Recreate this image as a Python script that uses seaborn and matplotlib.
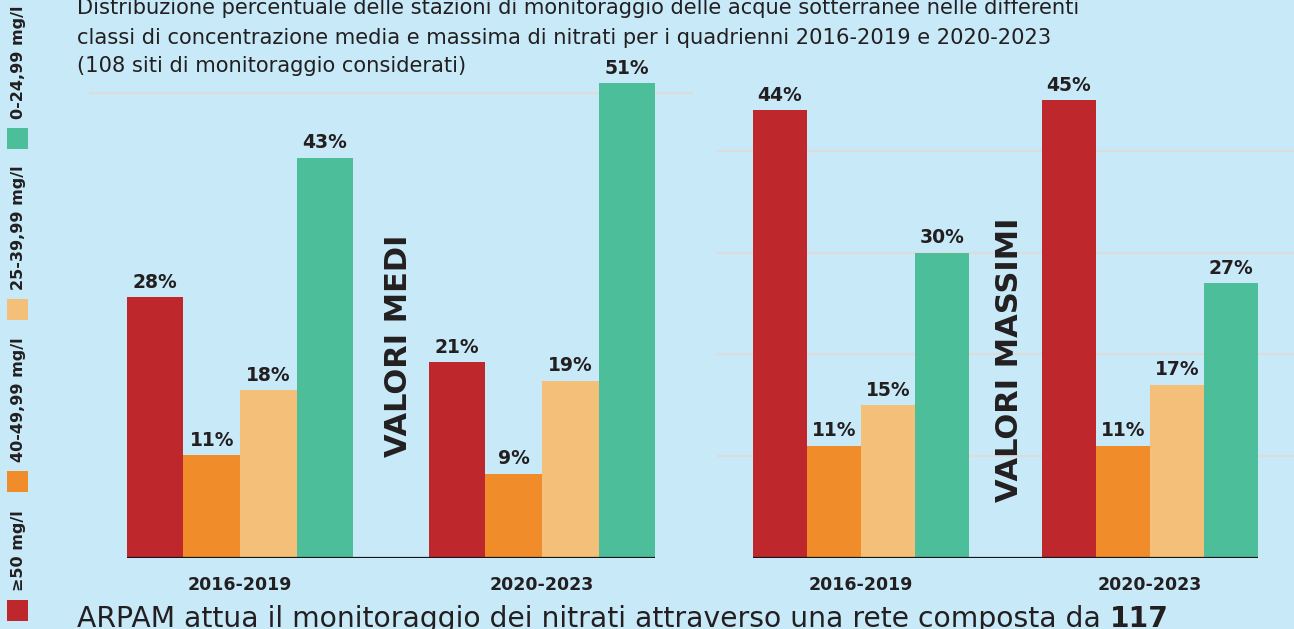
import matplotlib
matplotlib.use("Agg")
import pandas as pd
import seaborn as sns
import matplotlib.pyplot as plt
from matplotlib.patches import Rectangle

# dati (percentuale di stazioni per classe)
periodi = ["2016-2019", "2020-2023"]
classi = ["≥50 mg/l", "40-49,99 mg/l", "25-39,99 mg/l", "0-24,99 mg/l"]
colori = ["#BE282C", "#F18C2B", "#F4BF78", "#4CBE99"]

medi_2016 = [28, 11, 18, 43]
medi_2020 = [21, 9, 19, 51]
massimi_2016 = [44, 11, 15, 30]
massimi_2020 = [45, 11, 17, 27]

titolo = [
    "Distribuzione percentuale delle stazioni di monitoraggio delle acque sotterranee nelle differenti",
    "classi di concentrazione media e massima di nitrati per i quadrienni 2016-2019 e 2020-2023",
    "(108 siti di monitoraggio considerati)",
]
nota = "ARPAM attua il monitoraggio dei nitrati attraverso una rete composta da"
nota_bold = "117"

sfondo = "#C7E9F8"
testo = "#231F20"
W, H = 1294, 629
BAR_W = 0.75


def make_df(v1, v2):
    rows = []
    for periodo, valori in zip(periodi, [v1, v2]):
        for classe, v in zip(classi, valori):
            rows.append({"periodo": periodo, "classe": classe, "valore": v})
    return pd.DataFrame(rows)


def draw_panel(ax, df, ymax, grid_vals):
    sns.barplot(data=df, x="periodo", y="valore", hue="classe", hue_order=classi,
                palette=colori, width=BAR_W, saturation=1, errorbar=None,
                legend=False, linewidth=0, ax=ax)
    ax.set_xlim(-0.5, 1.5)
    ax.set_ylim(0, ymax)
    ax.set_yticks(grid_vals)
    ax.grid(axis="y", color="#DCDCDC", lw=1.6)
    ax.grid(axis="x", visible=False)
    ax.set_axisbelow(True)
    ax.tick_params(left=False, labelleft=False, bottom=False, length=0, pad=13)
    for lab in ax.get_xticklabels():
        lab.set_fontweight("bold")
        lab.set_fontsize(12.5)
        lab.set_color(testo)
    ax.set_xlabel("")
    ax.set_ylabel("")
    sns.despine(ax=ax, left=True, bottom=True)
    ax.hlines(0, -BAR_W / 2, len(periodi) - 1 + BAR_W / 2, color="#151515", lw=1.6, zorder=4)
    for c in ax.containers:
        ax.bar_label(c, fmt="%d%%", padding=4, fontsize=13.5, fontweight="bold", color=testo)
    ax.patch.set_alpha(0)


sns.set_style("white")
plt.rcParams["font.family"] = ["DejaVu Sans"]

fig = plt.figure(figsize=(W / 100, H / 100), dpi=100, facecolor=sfondo)

base = (H - 557.5) / H
ax1 = fig.add_axes([89 / W, base, 604 / W, 55 * 9.30 / H])
ax2 = fig.add_axes([716.5 / W, base, 578 / W, 50 * 10.16 / H])

draw_panel(ax1, make_df(medi_2016, medi_2020), 55, [50])
draw_panel(ax2, make_df(massimi_2016, massimi_2020), 50, [10, 20, 30, 40])

fig.text(398.5 / W, 1 - 346 / H, "VALORI MEDI", rotation=90, ha="center", va="center",
         fontsize=22, fontweight="bold", color=testo)
fig.text(1010 / W, 1 - 360 / H, "VALORI MASSIMI", rotation=90, ha="center", va="center",
         fontsize=22, fontweight="bold", color=testo)

# titolo (la prima riga è tagliata dal bordo superiore, come nell'originale)
for riga, yb in zip(titolo, [14, 44, 72]):
    fig.text(77 / W, 1 - yb / H, riga, ha="left", va="baseline", fontsize=15.1, color=testo)

# legenda verticale a sinistra
sq_top = [600, 471, 299, 128]
for classe, col, top in zip(classi, colori, sq_top):
    fig.patches.append(Rectangle((7 / W, 1 - (top + 21) / H), 21 / W, 21 / H,
                                 transform=fig.transFigure, facecolor=col, edgecolor="none"))
    fig.text(19 / W, 1 - (top - 9) / H, classe, rotation=90, ha="center", va="bottom",
             fontsize=11.5, fontweight="bold", color=testo)

# nota in basso (tagliata dal bordo inferiore)
t = fig.text(77 / W, 2 / H, nota, ha="left", va="baseline", fontsize=20.3, color=testo)
fig.canvas.draw()
bb = t.get_window_extent()
fig.text((bb.x1 + 9) / W, 2 / H, nota_bold, ha="left", va="baseline", fontsize=20.3,
         fontweight="bold", color=testo)

fig.savefig("out.png", dpi=100, facecolor=sfondo)
